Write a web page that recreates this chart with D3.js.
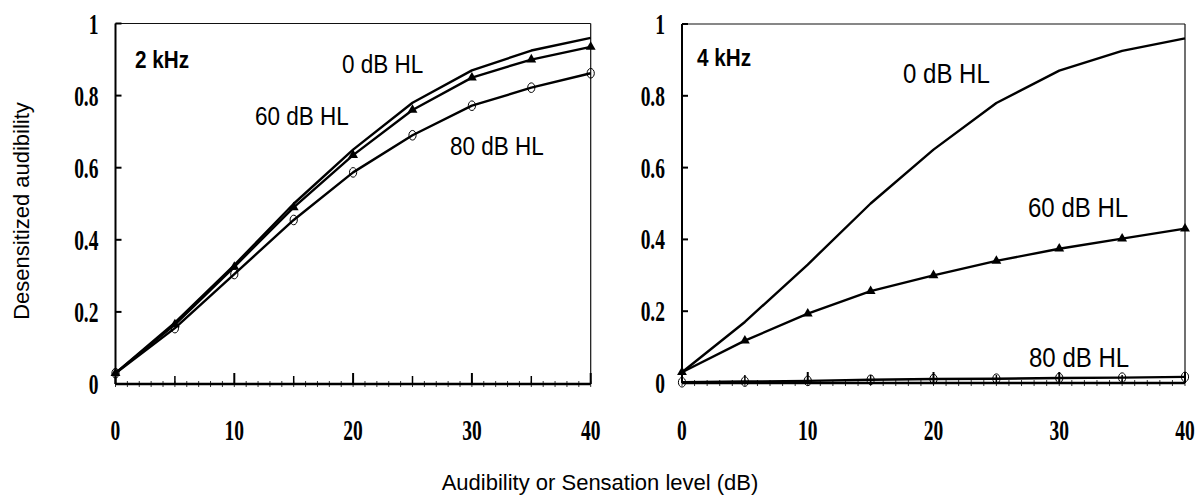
<!DOCTYPE html>
<html>
<head>
<meta charset="utf-8">
<script src="https://cdn.jsdelivr.net/npm/d3@7"></script>
<style>
  body { margin: 0; background: #fff; }
  svg { display: block; }
  .tick-label { font-family: "Liberation Serif", "Times New Roman", serif; font-weight: bold; font-size: 30px; fill: #000; }
  .curve-label { font-family: "Liberation Sans", Arial, sans-serif; fill: #000; }
  .panel-label { font-family: "Liberation Sans", Arial, sans-serif; font-weight: bold; font-size: 23px; fill: #000; }
  .axis-title { font-family: "Liberation Sans", Arial, sans-serif; font-size: 22px; fill: #000; }
</style>
</head>
<body>
<svg id="chart"></svg>
<script>
// sensation level (dB)
const levels = [0, 5, 10, 15, 20, 25, 30, 35, 40];

// 2 kHz
const khz2_0dB  = [0.03, 0.17, 0.33, 0.50, 0.65, 0.78, 0.87, 0.925, 0.96];
const khz2_60dB = [0.03, 0.165, 0.325, 0.49, 0.635, 0.76, 0.85, 0.90, 0.935];
const khz2_80dB = [0.03, 0.155, 0.305, 0.455, 0.587, 0.69, 0.772, 0.822, 0.862];

// 4 kHz
const khz4_0dB  = [0.03, 0.17, 0.33, 0.50, 0.65, 0.78, 0.87, 0.925, 0.96];
const khz4_60dB = [0.03, 0.118, 0.193, 0.256, 0.30, 0.34, 0.374, 0.402, 0.43];
const khz4_80dB = [0.002, 0.004, 0.006, 0.009, 0.011, 0.012, 0.014, 0.015, 0.017];

const xTicks = [0, 10, 20, 30, 40];
const yTicks = [0, 0.2, 0.4, 0.6, 0.8, 1];
const yTickText = ['0', '0.2', '0.4', '0.6', '0.8', '1'];

const W = 1196, H = 495;
const svg = d3.select('#chart').attr('width', W).attr('height', H);

const panels = [
    {
        name: '2 kHz', xr: [115.5, 590.7], yr: [384, 23.5],
        series: [
            { values: khz2_0dB, marker: null },
            { values: khz2_60dB, marker: 'tri' },
            { values: khz2_80dB, marker: 'circ' }
        ],
        labelPos: [135, 68], fs: 25, sx: 0.9,
        notes: [['0 dB HL', 342, 73], ['60 dB HL', 255, 125], ['80 dB HL', 450, 155]]
    },
    {
        name: '4 kHz', xr: [682, 1185], yr: [383, 24],
        series: [
            { values: khz4_0dB, marker: null },
            { values: khz4_60dB, marker: 'tri' },
            { values: khz4_80dB, marker: 'circ' }
        ],
        labelPos: [697, 66], fs: 27, sx: 0.89,
        notes: [['0 dB HL', 903, 83], ['60 dB HL', 1028, 217], ['80 dB HL', 1029, 367]]
    }
];

panels.forEach(p => {
    const x = d3.scaleLinear().domain([0, 40]).range(p.xr);
    const y = d3.scaleLinear().domain([0, 1]).range(p.yr);
    const g = svg.append('g');

    // frame (thin top / right)
    g.append('line').attr('x1', x(0)).attr('x2', x(40)).attr('y1', y(1)).attr('y2', y(1))
        .attr('stroke', '#111').attr('stroke-width', 1.2);
    g.append('line').attr('x1', x(40)).attr('x2', x(40)).attr('y1', y(1)).attr('y2', y(0))
        .attr('stroke', '#111').attr('stroke-width', 1.2);

    // minor x ticks every 1 dB
    g.selectAll('.minor').data(d3.range(0, 41, 1)).join('line')
        .attr('x1', d => x(d)).attr('x2', d => x(d))
        .attr('y1', y(0) - 3).attr('y2', y(0) + 3)
        .attr('stroke', '#000').attr('stroke-width', 0.8);
    // mid ticks at 5
    g.selectAll('.mid').data(d3.range(5, 40, 10)).join('line')
        .attr('x1', d => x(d)).attr('x2', d => x(d))
        .attr('y1', y(0) - 8).attr('y2', y(0))
        .attr('stroke', '#000').attr('stroke-width', 1.5);
    // major ticks
    g.selectAll('.major').data(xTicks).join('line')
        .attr('x1', d => x(d)).attr('x2', d => x(d))
        .attr('y1', y(0) - 11).attr('y2', y(0))
        .attr('stroke', '#000').attr('stroke-width', 2);
    // y ticks inward
    g.selectAll('.ytick').data(yTicks).join('line')
        .attr('x1', x(0)).attr('x2', x(0) + 6)
        .attr('y1', d => y(d)).attr('y2', d => y(d))
        .attr('stroke', '#000').attr('stroke-width', 2);

    // axes
    g.append('line').attr('x1', x(0)).attr('x2', x(0)).attr('y1', y(1)).attr('y2', y(0))
        .attr('stroke', '#000').attr('stroke-width', 2);
    g.append('line').attr('x1', x(0)).attr('x2', x(40)).attr('y1', y(0)).attr('y2', y(0))
        .attr('stroke', '#000').attr('stroke-width', 2.5);

    // tick labels
    g.selectAll('.xl').data(xTicks).join('text')
        .attr('class', 'tick-label')
        .attr('text-anchor', 'middle')
        .attr('transform', d => `translate(${x(d)},440) scale(0.65,1)`)
        .text(d => d);
    g.selectAll('.yl').data(yTicks).join('text')
        .attr('class', 'tick-label')
        .attr('text-anchor', 'end')
        .attr('transform', d => `translate(${x(0) - 17},${y(d) + 10}) scale(0.65,1)`)
        .text((d, i) => yTickText[i]);

    // curves
    const line = d3.line().x((d, i) => x(levels[i])).y(d => y(d));
    p.series.forEach(s => {
        g.append('path').datum(s.values)
            .attr('d', line)
            .attr('fill', 'none')
            .attr('stroke', '#000')
            .attr('stroke-width', 2.4)
            .attr('stroke-linejoin', 'round');
        if (s.marker === 'tri') {
            g.selectAll(null).data(s.values).join('path')
                .attr('d', d3.symbol(d3.symbolTriangle, 42))
                .attr('transform', (d, i) => `translate(${x(levels[i])},${y(d)})`)
                .attr('fill', '#000');
        } else if (s.marker === 'circ') {
            g.selectAll(null).data(s.values).join('ellipse')
                .attr('cx', (d, i) => x(levels[i]))
                .attr('cy', d => y(d))
                .attr('rx', 3.6).attr('ry', 4.8)
                .attr('fill', 'none')
                .attr('stroke', '#000')
                .attr('stroke-width', 1);
        }
    });

    // panel label
    g.append('text').attr('class', 'panel-label')
        .attr('transform', `translate(${p.labelPos[0]},${p.labelPos[1]}) scale(0.9,1)`)
        .text(p.name);

    // curve labels
    p.notes.forEach(n => {
        g.append('text').attr('class', 'curve-label')
            .attr('font-size', p.fs)
            .attr('transform', `translate(${n[1]},${n[2]}) scale(${p.sx},1)`)
            .text(n[0]);
    });
});

// axis titles
svg.append('text').attr('class', 'axis-title')
    .attr('text-anchor', 'middle')
    .attr('transform', 'translate(29,211) rotate(-90)')
    .text('Desensitized audibility');

svg.append('text').attr('class', 'axis-title')
    .attr('text-anchor', 'middle')
    .attr('x', 600).attr('y', 490)
    .text('Audibility or Sensation level (dB)');
</script>
</body>
</html>
